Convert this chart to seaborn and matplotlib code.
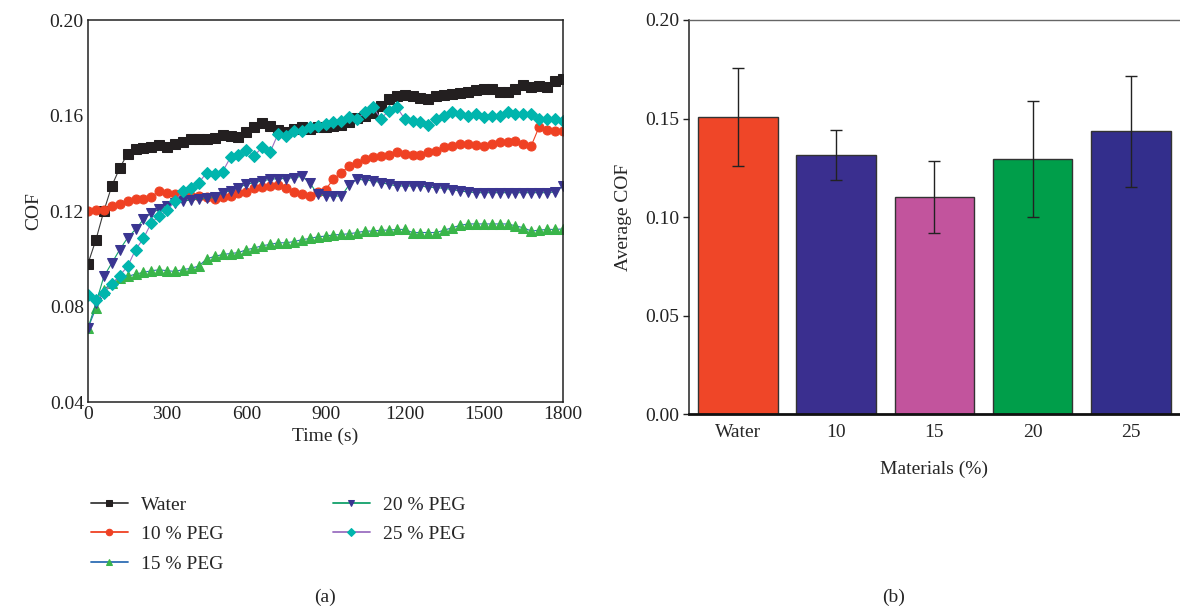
import matplotlib
matplotlib.use("Agg")
import matplotlib.pyplot as plt
import numpy as np
import seaborn as sns

# time axis (s), one reading every 30 s
time_s = list(range(0, 1801, 30))

cof_water = [0.098, 0.108, 0.120, 0.1305, 0.138, 0.144, 0.146, 0.1465, 0.147, 0.1475,
             0.147, 0.148, 0.149, 0.150, 0.150, 0.150, 0.1505, 0.152, 0.1515, 0.151,
             0.153, 0.155, 0.157, 0.1555, 0.154, 0.153, 0.1545, 0.155, 0.1545, 0.155,
             0.155, 0.1555, 0.156, 0.1575, 0.159, 0.160, 0.161, 0.164, 0.167, 0.168,
             0.1685, 0.168, 0.1675, 0.167, 0.168, 0.1685, 0.169, 0.1695, 0.170, 0.1705,
             0.171, 0.171, 0.170, 0.170, 0.171, 0.173, 0.172, 0.1725, 0.172, 0.1745,
             0.1755]
cof_peg10 = [0.120, 0.1205, 0.1205, 0.122, 0.123, 0.124, 0.125, 0.125, 0.126, 0.1285,
             0.1275, 0.127, 0.127, 0.1265, 0.1265, 0.126, 0.125, 0.126, 0.1265, 0.1275,
             0.128, 0.1295, 0.130, 0.1305, 0.131, 0.1295, 0.128, 0.127, 0.1265, 0.128,
             0.129, 0.1333, 0.136, 0.139, 0.140, 0.1418, 0.1425, 0.143, 0.1436, 0.1446,
             0.144, 0.1436, 0.1436, 0.1446, 0.1453, 0.1467, 0.1474, 0.148, 0.148, 0.1478,
             0.1474, 0.148, 0.1488, 0.149, 0.1495, 0.148, 0.1474, 0.1554, 0.154, 0.1537,
             0.1537]
cof_peg15 = [0.071, 0.0793, 0.087, 0.090, 0.092, 0.0926, 0.0936, 0.0943, 0.095, 0.0954,
             0.095, 0.0947, 0.0955, 0.096, 0.097, 0.100, 0.101, 0.1018, 0.1022, 0.1026,
             0.1038, 0.1045, 0.1055, 0.106, 0.1067, 0.1067, 0.1072, 0.108, 0.1085, 0.1092,
             0.1095, 0.110, 0.1102, 0.1105, 0.111, 0.1116, 0.1116, 0.112, 0.112, 0.1123,
             0.1123, 0.111, 0.111, 0.111, 0.111, 0.112, 0.113, 0.114, 0.1146, 0.1146,
             0.1146, 0.1146, 0.1146, 0.1146, 0.1138, 0.113, 0.1116, 0.112, 0.1123, 0.1123,
             0.1125]
cof_peg20 = [0.071, 0.0814, 0.0926, 0.0982, 0.1038, 0.1088, 0.1123, 0.1165, 0.1193, 0.1207,
             0.1221, 0.1235, 0.1242, 0.1246, 0.125, 0.1253, 0.1257, 0.1277, 0.1284, 0.1298,
             0.1312, 0.1319, 0.1326, 0.1333, 0.1336, 0.1336, 0.134, 0.1345, 0.1319, 0.127,
             0.1263, 0.1263, 0.1263, 0.131, 0.1333, 0.133, 0.1326, 0.1319, 0.1312, 0.1305,
             0.1305, 0.1305, 0.1305, 0.130, 0.1298, 0.1295, 0.129, 0.1284, 0.128, 0.1277,
             0.1277, 0.1277, 0.1277, 0.1277, 0.1277, 0.1277, 0.1277, 0.1277, 0.1277, 0.128,
             0.1305]
cof_peg25 = [0.0849, 0.0828, 0.0856, 0.0894, 0.093, 0.0968, 0.1038, 0.1085, 0.1151, 0.1179,
             0.1203, 0.1242, 0.1284, 0.1295, 0.1319, 0.1361, 0.1357, 0.1365, 0.1425, 0.1436,
             0.1455, 0.1432, 0.1467, 0.1446, 0.1523, 0.1516, 0.1537, 0.1535, 0.155, 0.1558,
             0.1565, 0.1572, 0.1579, 0.1593, 0.1586, 0.1614, 0.1635, 0.1586, 0.1621, 0.1635,
             0.1586, 0.1576, 0.1572, 0.1562, 0.1586, 0.160, 0.1614, 0.1605, 0.160, 0.1607,
             0.1593, 0.160, 0.160, 0.1614, 0.1607, 0.1607, 0.1607, 0.1586, 0.1586, 0.1586,
             0.1579]

series_labels = ["Water", "10 % PEG", "15 % PEG", "20 % PEG", "25 % PEG"]

# bar chart (b)
materials = ["Water", "10", "15", "20", "25"]
avg_cof = [0.1507, 0.1316, 0.110, 0.1295, 0.1435]
cof_err = [0.025, 0.0127, 0.0183, 0.0293, 0.028]

sns.set_style("white")
plt.rcParams["font.family"] = ["Liberation Serif", "DejaVu Serif"]
plt.rcParams["font.size"] = 14

fig = plt.figure(figsize=(11.8, 6.11), dpi=100)

# ---- (a) line chart ----
ax1 = fig.add_axes([0.0746, 0.342, 0.4025, 0.6252])

styles = [
    # line colour, marker, marker colour
    ("#3a3a3a", "s", "#231f20"),
    ("#ef4123", "o", "#ef4123"),
    ("#2e6db4", "^", "#39b54a"),
    ("#11a06a", "v", "#3a3591"),
    ("#9b6fc0", "D", "#00b5ad"),
]
all_series = [cof_water, cof_peg10, cof_peg15, cof_peg20, cof_peg25]
for vals, lab, (lc, mk, mc) in zip(all_series, series_labels, styles):
    ms = 6.5 if mk != "D" else 5.8
    sns.lineplot(x=time_s, y=vals, ax=ax1, color=lc, linewidth=0.8, label=lab,
                 marker=mk, markersize=ms, markerfacecolor=mc, markeredgecolor=mc,
                 legend=False)

ax1.set_xlim(0, 1800)
ax1.set_ylim(0.04, 0.20)
ax1.set_xticks([0, 300, 600, 900, 1200, 1500, 1800])
ax1.set_yticks([0.04, 0.08, 0.12, 0.16, 0.20])
ax1.set_yticklabels(["0.04", "0.08", "0.12", "0.16", "0.20"])
ax1.tick_params(direction="in", length=5, width=1, colors="#222222", labelsize=14, pad=3)
for s in ax1.spines.values():
    s.set_color("#222222")
    s.set_linewidth(1.1)
ax1.set_xlabel("Time (s)", fontsize=14, labelpad=3)
ax1.set_ylabel("COF", fontsize=14, labelpad=5)

handles, labels = ax1.get_legend_handles_labels()
leg = fig.legend(handles, labels, loc="upper left", bbox_to_anchor=(0.062, 0.217),
                 ncol=2, frameon=False, fontsize=14, handlelength=1.9, markerscale=0.72,
                 columnspacing=5.6, labelspacing=0.62, handletextpad=0.7)
for h in leg.legend_handles:
    h.set_linewidth(1.3)

fig.text(0.2755, 0.022, "(a)", ha="center", va="center", fontsize=14)

# ---- (b) bar chart ----
ax2 = fig.add_axes([0.5836, 0.322, 0.4164, 0.6453])
bar_colors = ["#ef4628", "#3a2f8f", "#c2549d", "#009e4a", "#332e8c"]
sns.barplot(x=materials, y=avg_cof, hue=materials, palette=bar_colors, legend=False,
            ax=ax2, width=0.81, edgecolor="#333333", linewidth=1.0, saturation=1)
ax2.errorbar(x=np.arange(len(materials)), y=avg_cof, yerr=cof_err, fmt="none",
             ecolor="#222222", elinewidth=1.0, capsize=4, capthick=1.0)
ax2.set_xlim(-0.5, 4.5)
ax2.set_ylim(0, 0.20)
ax2.set_yticks([0.00, 0.05, 0.10, 0.15, 0.20])
ax2.set_yticklabels(["0.00", "0.05", "0.10", "0.15", "0.20"])
ax2.tick_params(axis="y", direction="out", length=4, width=1, colors="#222222",
                labelsize=14, pad=3, left=True)
ax2.tick_params(axis="x", length=0, labelsize=14, pad=7)
ax2.spines["right"].set_visible(False)
ax2.spines["top"].set_color("#666666")
ax2.spines["top"].set_linewidth(1.0)
ax2.spines["left"].set_color("#222222")
ax2.spines["left"].set_linewidth(1.1)
ax2.spines["bottom"].set_color("#111111")
ax2.spines["bottom"].set_linewidth(2.0)
ax2.set_xlabel("Materials (%)", fontsize=14, labelpad=14)
ax2.set_ylabel("Average COF", fontsize=14, labelpad=9)

fig.text(0.757, 0.022, "(b)", ha="center", va="center", fontsize=14)

fig.savefig("out.png", dpi=100)
